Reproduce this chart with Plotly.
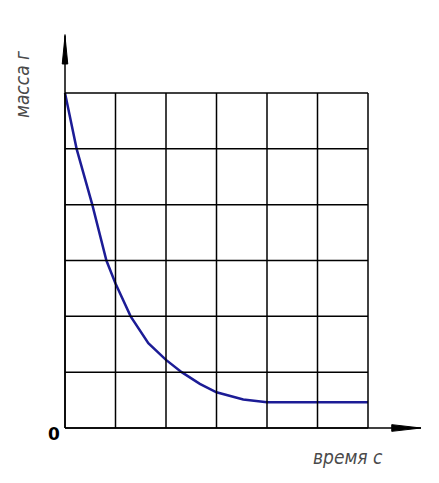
# plot.py
# Кривая убыли массы во времени на клетчатой сетке

import plotly.graph_objects as go

# Данные кривой (в клетках сетки)
time_s = [0, 0.23, 0.54, 0.82, 1.0, 1.3, 1.65, 2.0, 2.31, 2.67, 3.0, 3.53, 4.0, 5.0, 6.0]
mass_g = [6, 5, 4, 3, 2.59, 2, 1.52, 1.22, 1.0, 0.79, 0.64, 0.51, 0.46, 0.46, 0.46]

# Линии сетки
grid_x = [0, 1, 2, 3, 4, 5, 6]
grid_y = [0, 1, 2, 3, 4, 5, 6]

W, H = 439, 483
# у страницы есть отступ body 8px, поэтому всё сдвигаем
X0, Y0 = 65 - 8, 428 - 8      # пиксель начала координат
SX, SY = 50.5, 55.83          # пикселей на клетку

fig = go.Figure()

shapes = []
for gx in grid_x:
    shapes.append(dict(type='line', x0=gx, x1=gx, y0=0, y1=6,
                       line=dict(color='black', width=1.5)))
for gy in grid_y:
    shapes.append(dict(type='line', x0=0, x1=6, y0=gy, y1=gy,
                       line=dict(color='black', width=1.5)))

# Оси со стрелками
shapes.append(dict(type='line', x0=0, x1=7.05, y0=0, y1=0,
                   line=dict(color='black', width=1.5)))
shapes.append(dict(type='line', x0=0, x1=0, y0=0, y1=7.05,
                   line=dict(color='black', width=1.5)))
shapes.append(dict(type='path', path='M 7.05 0 L 6.47 0.06 L 6.47 -0.06 Z',
                   fillcolor='black', line=dict(color='black', width=1)))
shapes.append(dict(type='path', path='M 0 7.02 L 0.055 6.52 L -0.055 6.52 Z',
                   fillcolor='black', line=dict(color='black', width=1)))

fig.add_trace(go.Scatter(
    x=time_s,
    y=mass_g,
    mode='lines',
    line=dict(color='#1c1c96', width=2.5),
    hoverinfo='skip'
))

label_font = dict(family='DejaVu Sans Condensed', size=19, color='#4a4a4a')


def px_to_paper(px, py):
    return (px - 8) / W, 1 - (py - 8) / H


mx, my = px_to_paper(22, 84)
tx, ty = px_to_paper(348, 457)
zx, zy = px_to_paper(54, 434)

fig.update_layout(
    width=W,
    height=H,
    margin=dict(l=0, r=0, t=0, b=0),
    paper_bgcolor='white',
    plot_bgcolor='white',
    showlegend=False,
    shapes=shapes,
    xaxis=dict(range=[-X0 / SX, (W - X0) / SX], visible=False, fixedrange=True),
    yaxis=dict(range=[-(H - Y0) / SY, Y0 / SY], visible=False, fixedrange=True),
    annotations=[
        dict(x=mx, y=my, xref='paper', yref='paper', text='<i>масса г</i>',
             xanchor='center', yanchor='middle', showarrow=False,
             textangle=-90, font=label_font),
        dict(x=zx, y=zy, xref='paper', yref='paper', text='<b>0</b>',
             xanchor='center', yanchor='middle', showarrow=False,
             font=dict(family='DejaVu Sans', size=17, color='black')),
        dict(x=tx, y=ty, xref='paper', yref='paper', text='<i>время с</i>',
             xanchor='center', yanchor='middle', showarrow=False, font=label_font),
    ]
)

fig.write_html("out.html")
